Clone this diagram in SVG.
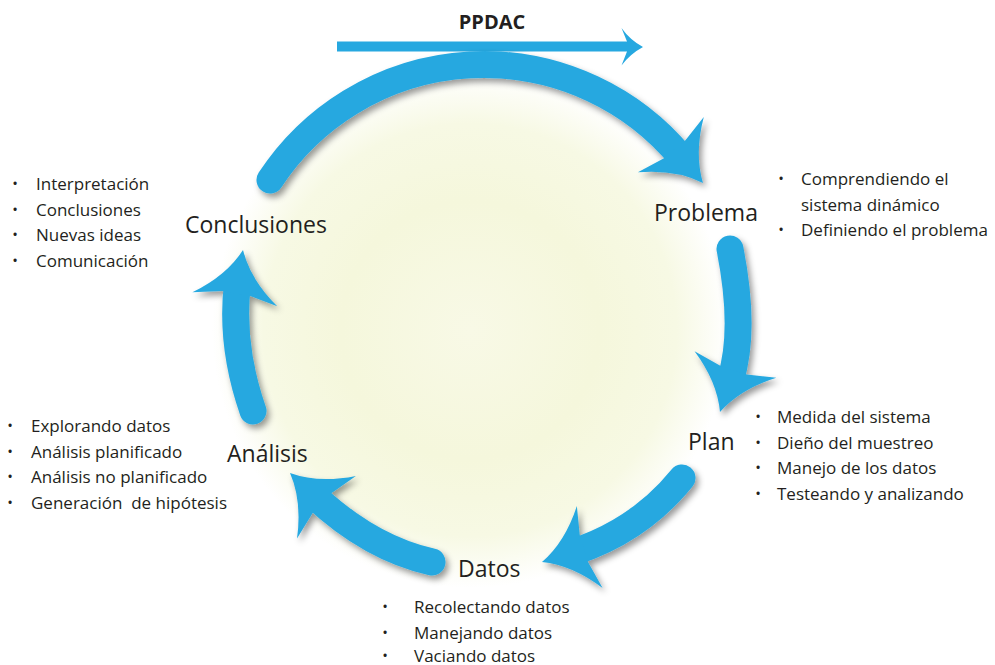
<svg xmlns="http://www.w3.org/2000/svg" width="995" height="665" viewBox="0 0 995 665">
<defs>
<radialGradient id="glow" cx="470" cy="330" r="258" gradientUnits="userSpaceOnUse">
<stop offset="0" stop-color="#f8f9e6"/>
<stop offset="0.5" stop-color="#f5f7dc"/>
<stop offset="0.8" stop-color="#f7f9e4"/>
<stop offset="1" stop-color="#ffffff"/>
</radialGradient>
<filter id="sh" x="-30%" y="-30%" width="160%" height="160%">
<feDropShadow dx="3" dy="4" stdDeviation="3" flood-color="#000" flood-opacity="0.4"/>
</filter>
<path id="head" d="M0,0 Q-28,-12 -50,-43 L-44,-14 L-44,14 L-50,43 Q-28,12 0,0 Z"/>
<style>
.sh{fill:none;stroke:#26a8e0;stroke-width:27;stroke-linecap:round}
.hd{fill:#26a8e0}
.arr{filter:url(#sh)}
text{font-family:"Open Sans","Noto Sans","Liberation Sans",sans-serif;fill:#231f20}
.lbl{font-size:23px}
.li{font-size:17px;white-space:pre}
.bu{font-size:15px;text-anchor:middle}
.ttl{font-size:20px;font-weight:bold;text-anchor:middle}
</style>
</defs>
<rect width="995" height="665" fill="#ffffff"/>
<circle cx="470" cy="330" r="258" fill="url(#glow)"/>

<g id="title">
<text class="ttl" x="492" y="29">PPDAC</text>
<g id="ppdac-arrow">
<rect x="337" y="41.5" width="292" height="10" fill="#26a8e0"/>
<path class="hd" d="M643,47 Q630,40 621.5,28 L627,41.5 L627,51.5 L621.5,65.5 Q630,54 643,47 Z"/>
</g>
</g>

<g id="connectors">
<g id="c-conclusiones-problema" class="arr">
<path class="sh" d="M270,180 A256,256 0 0 1 681,157"/>
<use href="#head" class="hd" transform="translate(703,183) rotate(50)"/>
</g>
<g id="c-problema-plan" class="arr">
<path class="sh" d="M730,249 Q746,330 730.5,379.7"/>
<use href="#head" class="hd" transform="translate(720,412) rotate(108)"/>
</g>
<g id="c-plan-datos" class="arr">
<path class="sh" d="M682,478 Q640,530 574.4,551.8"/>
<use href="#head" class="hd" transform="translate(542,562) rotate(162.6)"/>
</g>
<g id="c-datos-analisis" class="arr">
<path class="sh" d="M432,562 Q370,548 314.8,496.3"/>
<use href="#head" class="hd" transform="translate(290,473) rotate(-136.8)"/>
</g>
<g id="c-analisis-conclusiones" class="arr">
<path class="sh" d="M253,411 Q230,345 237.5,283.6"/>
<use href="#head" class="hd" transform="translate(243,250) rotate(-80.6)"/>
</g>
</g>

<g id="node-conclusiones">
<text class="lbl" x="185" y="233">Conclusiones</text>
<text class="bu" x="15" y="189">•</text><text class="li" x="36" y="190">Interpretación</text>
<text class="bu" x="15" y="214.5">•</text><text class="li" x="36" y="215.5">Conclusiones</text>
<text class="bu" x="15" y="240">•</text><text class="li" x="36" y="241">Nuevas ideas</text>
<text class="bu" x="15" y="265.5">•</text><text class="li" x="36" y="266.5">Comunicación</text>
</g>

<g id="node-problema">
<text class="lbl" x="654" y="221">Problema</text>
<text class="bu" x="781" y="184">•</text><text class="li" x="801" y="185">Comprendiendo el</text>
<text class="li" x="801" y="210.5">sistema dinámico</text>
<text class="bu" x="781" y="235">•</text><text class="li" x="801" y="236">Definiendo el problema</text>
</g>

<g id="node-plan">
<text class="lbl" x="688" y="450">Plan</text>
<text class="bu" x="758" y="422">•</text><text class="li" x="777" y="423">Medida del sistema</text>
<text class="bu" x="758" y="447.5">•</text><text class="li" x="777" y="448.5">Dieño del muestreo</text>
<text class="bu" x="758" y="473">•</text><text class="li" x="777" y="474">Manejo de los datos</text>
<text class="bu" x="758" y="498.5">•</text><text class="li" x="777" y="499.5">Testeando y analizando</text>
</g>

<g id="node-datos">
<text class="lbl" x="458" y="577">Datos</text>
<text class="bu" x="385" y="612">•</text><text class="li" x="414" y="613">Recolectando datos</text>
<text class="bu" x="385" y="637.5">•</text><text class="li" x="414" y="638.5">Manejando datos</text>
<text class="bu" x="385" y="661">•</text><text class="li" x="414" y="662">Vaciando datos</text>
</g>

<g id="node-analisis">
<text class="lbl" x="227" y="462">Análisis</text>
<text class="bu" x="10" y="431">•</text><text class="li" x="31" y="432">Explorando datos</text>
<text class="bu" x="10" y="456.5">•</text><text class="li" x="31" y="457.5">Análisis planificado</text>
<text class="bu" x="10" y="482">•</text><text class="li" x="31" y="483">Análisis no planificado</text>
<text class="bu" x="10" y="507.5">•</text><text class="li" x="31" y="508.5" xml:space="preserve">Generación  de hipótesis</text>
</g>
</svg>
